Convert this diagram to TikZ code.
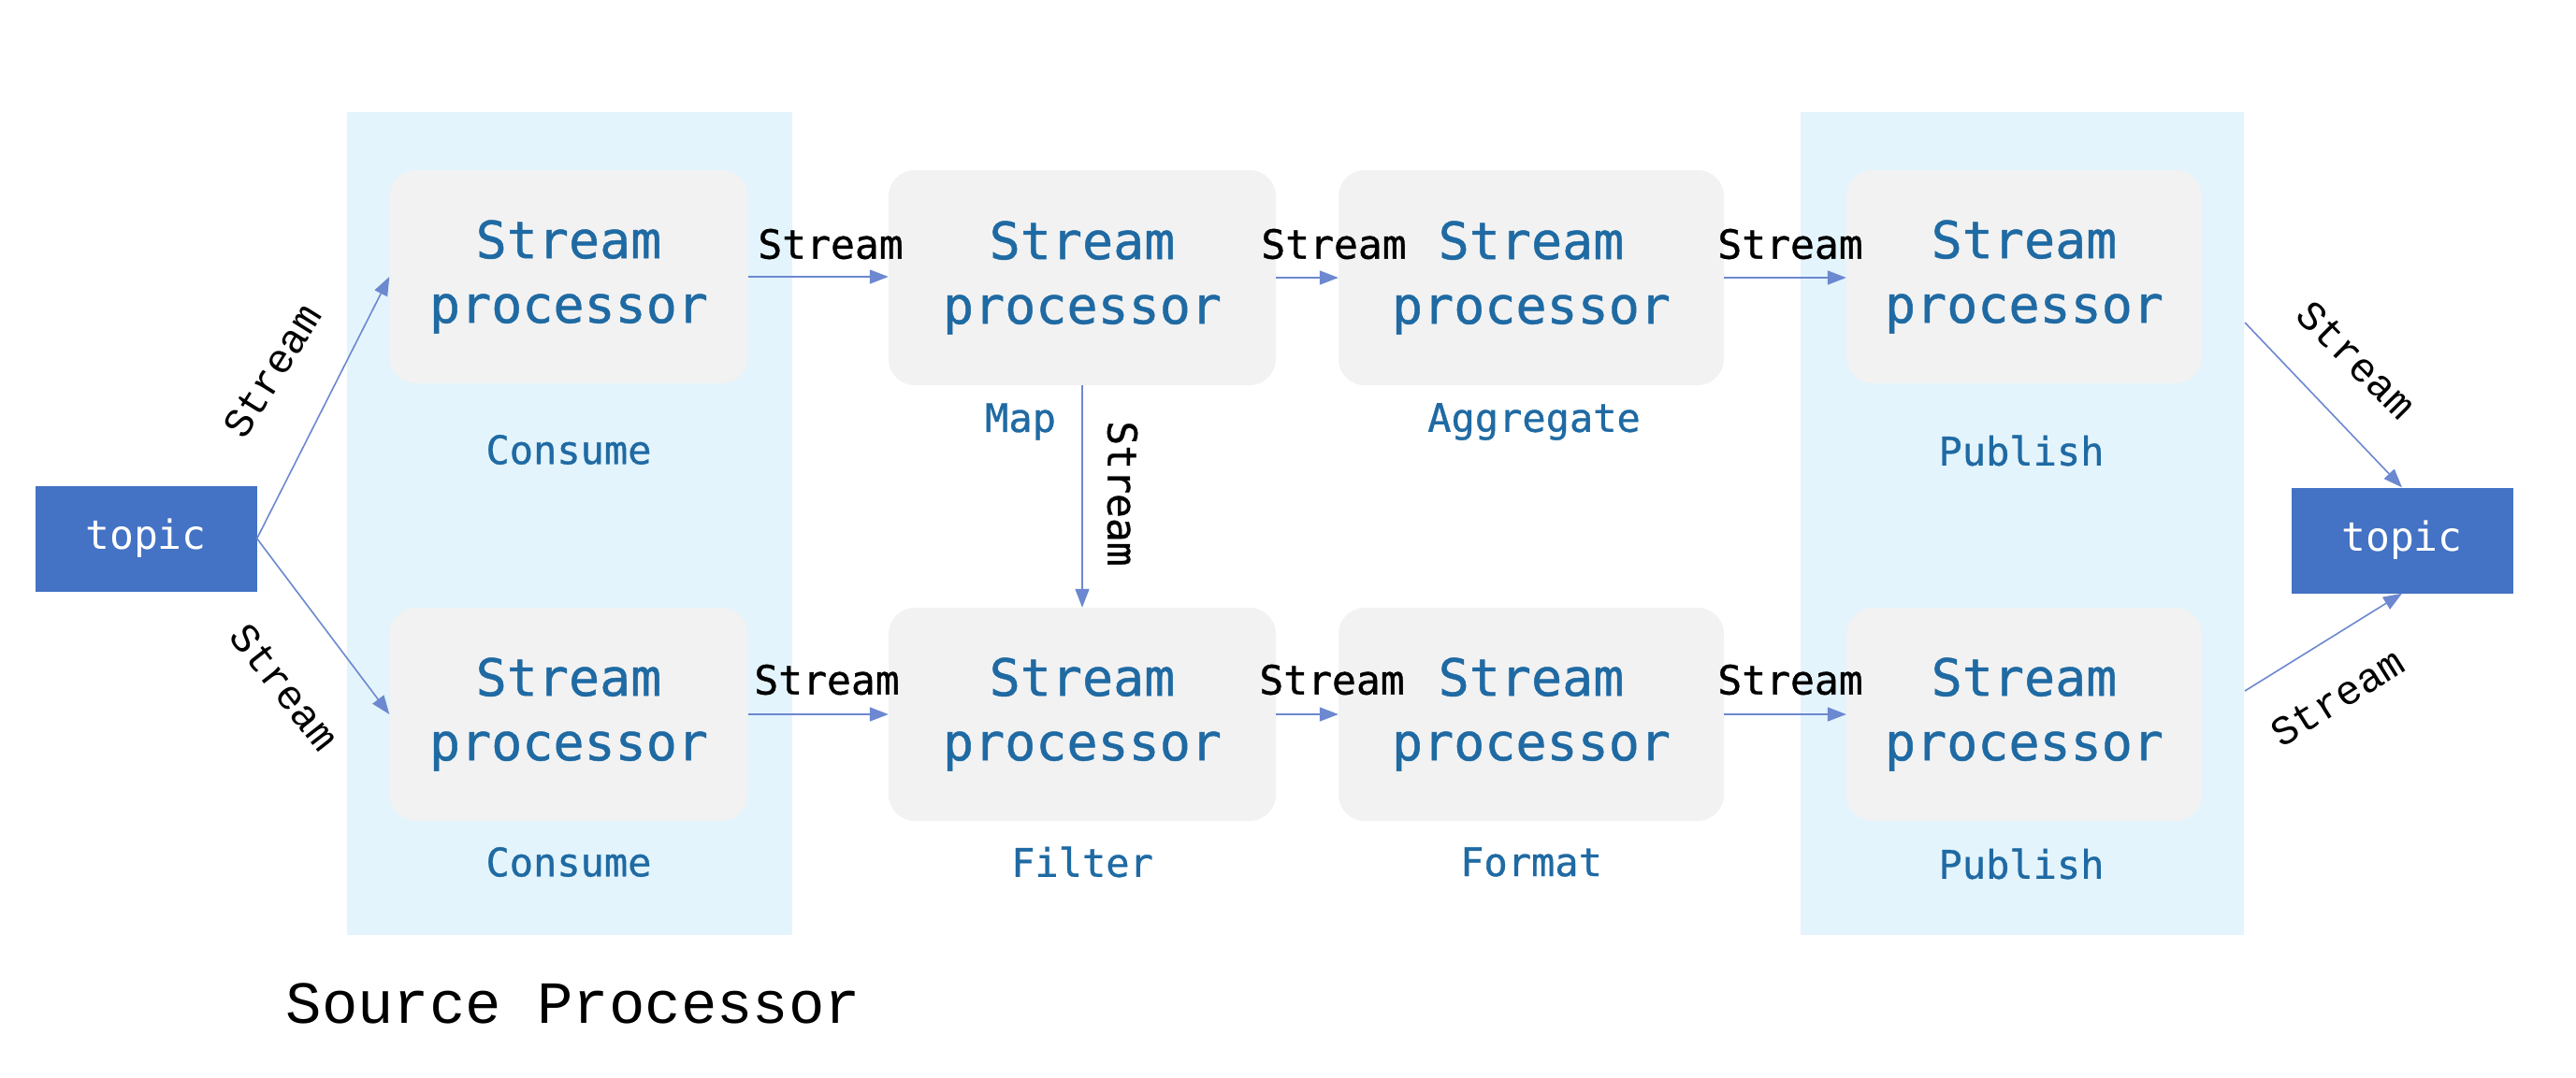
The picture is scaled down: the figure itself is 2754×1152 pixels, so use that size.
\documentclass[tikz,border=0pt]{standalone}
\usepackage{fontspec}
\newfontfamily\plexlike{DejaVu Sans Mono}
\newfontfamily\plexmed[FakeBold=0.8]{DejaVu Sans Mono}
\newfontfamily\courlike{Liberation Mono}
\usetikzlibrary{arrows.meta}
\definecolor{panelblue}{HTML}{E3F4FC}
\definecolor{boxgray}{HTML}{F2F2F2}
\definecolor{procblue}{HTML}{1F6AA3}
\definecolor{topicblue}{HTML}{4472C4}
\definecolor{arrowblue}{HTML}{6C88D0}
\tikzset{
  panel/.style={fill=panelblue, draw=none, inner sep=0pt},
  proc/.style={fill=boxgray, draw=none, rounded corners=28pt, inner sep=0pt,
    text=procblue, align=center, font=\plexmed\fontsize{55}{69}\selectfont},
  sublbl/.style={text=procblue, inner sep=0pt, font=\plexmed\fontsize{42}{50}\selectfont},
  topicbox/.style={fill=topicblue, draw=none, inner sep=0pt, minimum width=237pt,
    minimum height=113pt, text=white, font=\plexlike\fontsize{43}{50}\selectfont},
  streamlbl/.style={text=black, inner sep=0pt, font=\plexmed\fontsize{43}{50}\selectfont},
  streamlblc/.style={text=black, inner sep=0pt, font=\courlike\fontsize{44}{50}\selectfont},
  flow/.style={draw=arrowblue, line width=1.6pt, -{Triangle[length=20pt,width=15pt]}},
}
\begin{document}
\begin{tikzpicture}[x=1pt,y=-1pt]
\useasboundingbox (0,0) rectangle (2754,1152);
\fill[white] (0,0) rectangle (2754,1152);

% panels
\node[panel, minimum width=476pt, minimum height=880pt] (lpanel) at (609,560) {};
\node[panel, minimum width=474pt, minimum height=880pt] (rpanel) at (2162,560) {};

% topics
\node[topicbox] (tl) at (156,576) {topic};
\node[topicbox] (tr) at (2568,578) {topic};

% processors
\node[proc, minimum width=383pt, minimum height=228pt] (c1t) at (608,296) {Stream\\processor};
\node[proc, minimum width=383pt, minimum height=228pt] (c1b) at (608,764) {Stream\\processor};
\node[proc, minimum width=414pt, minimum height=230pt] (c2t) at (1157,297) {Stream\\processor};
\node[proc, minimum width=414pt, minimum height=228pt] (c2b) at (1157,764) {Stream\\processor};
\node[proc, minimum width=412pt, minimum height=230pt] (c3t) at (1637,297) {Stream\\processor};
\node[proc, minimum width=412pt, minimum height=228pt] (c3b) at (1637,764) {Stream\\processor};
\node[proc, minimum width=380pt, minimum height=228pt] (c4t) at (2164,296) {Stream\\processor};
\node[proc, minimum width=380pt, minimum height=228pt] (c4b) at (2164,764) {Stream\\processor};

% sub labels
\node[sublbl] (l1t) at (608,481) {Consume};
\node[sublbl] (l1b) at (608,922) {Consume};
\node[sublbl] (l2t) at (1091,451) {Map};
\node[sublbl] (l3t) at (1640,451) {Aggregate};
\node[sublbl] (l2b) at (1157,922) {Filter};
\node[sublbl] (l3b) at (1637,922) {Format};
\node[sublbl] (l4t) at (2161,482) {Publish};
\node[sublbl] (l4b) at (2161,924) {Publish};

% connectors
\draw[flow] (tl.east) -- (c1t.west);
\draw[flow] (tl.east) -- (c1b.west);
\draw[flow] (c1t.east) -- (c2t.west |- c1t.east);
\draw[flow] (c1b.east) -- (c2b.west |- c1b.east);
\draw[flow] (c2t.east) -- (c3t.west);
\draw[flow] (c2b.east) -- (c3b.west);
\draw[flow] (c3t.east) -- (c4t.west |- c3t.east);
\draw[flow] (c3b.east) -- (c4b.west |- c3b.east);
\draw[flow] (c2t.south) -- (c2b.north);
\coordinate (o4t) at (2400,345);
\coordinate (o4b) at (2400,739);
\draw[flow] (o4t) -- (tr.north);
\draw[flow] (o4b) -- (tr.south);

% stream labels
\node[streamlblc, rotate=58] (s1) at (291,397) {Stream};
\node[streamlblc, rotate=-52] (s2) at (304,735) {Stream};
\node[streamlbl] (s3) at (888,261) {Stream};
\node[streamlbl] (s4) at (884,727) {Stream};
\node[streamlbl] (s5) at (1426,261) {Stream};
\node[streamlbl] (s6) at (1424,727) {Stream};
\node[streamlbl] (s7) at (1914,261) {Stream};
\node[streamlbl] (s8) at (1914,727) {Stream};
\node[streamlbl, rotate=-90] (s9) at (1200,528) {Stream};
\node[streamlblc, rotate=-45] (s10) at (2519,385) {Stream};
\node[streamlblc, rotate=32] (s11) at (2499,746) {Stream};

% caption
\node[text=black, inner sep=0pt, font=\courlike\fontsize{64}{70}\selectfont] (cap) at (613,1073) {Source Processor};
\end{tikzpicture}
\end{document}
